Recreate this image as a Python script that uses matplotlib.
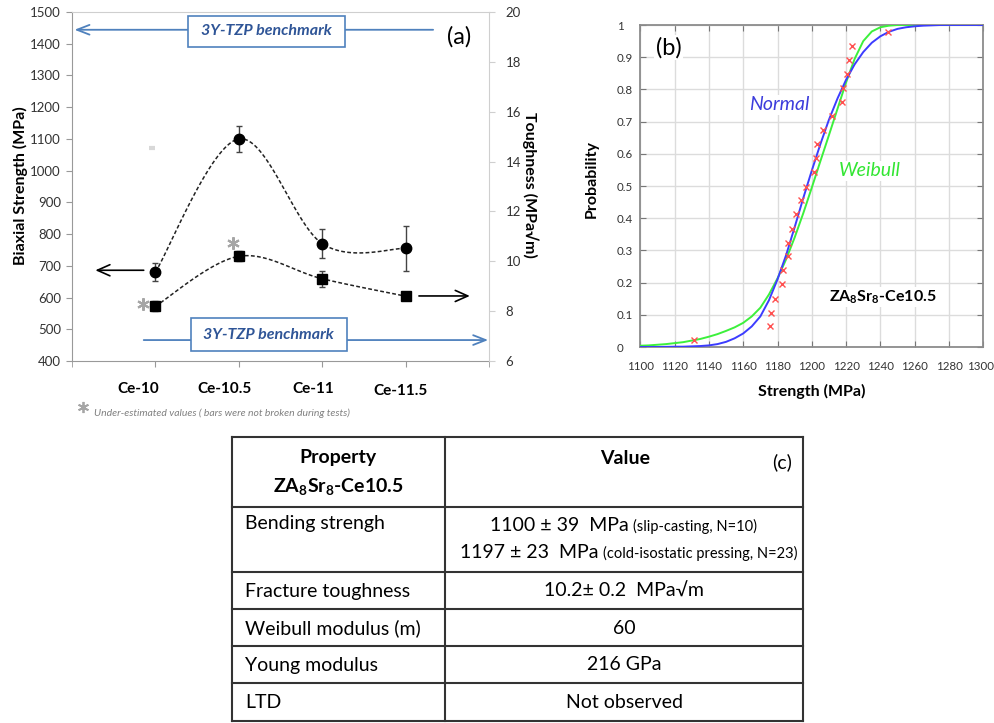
import numpy as np
import matplotlib
matplotlib.use('Agg')
import matplotlib.pyplot as plt
from matplotlib.patches import Rectangle
from matplotlib.transforms import ScaledTranslation

plt.rcParams['font.family'] = ['Lato', 'DejaVu Sans']
plt.rcParams['mathtext.fontset'] = 'custom'
plt.rcParams['mathtext.rm'] = 'Lato'
plt.rcParams['mathtext.bf'] = 'Lato:bold'

# ---------------- data: panel (a) ----------------
categories = ['Ce-10', 'Ce-10.5', 'Ce-11', 'Ce-11.5']
strength = [680, 1100, 770, 755]
strength_err = [29, 40, 46, 71]
toughness = [8.2, 10.2, 9.3, 8.6]
toughness_err = [0.2, 0.2, 0.33, 0.15]
strength_ticks = list(range(400, 1501, 100))
toughness_ticks = list(range(6, 21, 2))

# ---------------- data: panel (b) ----------------
sample_strength = [1131.1, 1175.9, 1176.3, 1178.3, 1182.5, 1183.3, 1186.2, 1186.0,
                   1188.3, 1190.9, 1193.8, 1196.5, 1201.0, 1202.5, 1203.1, 1206.6,
                   1211.7, 1217.7, 1218.1, 1220.6, 1221.6, 1223.5, 1244.3]
sample_prob = [0.023, 0.065, 0.107, 0.150, 0.195, 0.239, 0.283, 0.324, 0.368, 0.413,
               0.458, 0.497, 0.543, 0.588, 0.630, 0.675, 0.717, 0.760, 0.804, 0.848,
               0.892, 0.934, 0.978]
curve_x = list(range(1100, 1301, 5))
normal_p = [0.000, 0.000, 0.000, 0.0005, 0.001, 0.001, 0.002, 0.003, 0.005, 0.009,
            0.016, 0.027, 0.042, 0.064, 0.095, 0.145, 0.210, 0.285, 0.372, 0.462,
            0.548, 0.630, 0.706, 0.772, 0.830, 0.878, 0.916, 0.945, 0.965, 0.979,
            0.988, 0.993, 0.996, 0.998, 0.999, 1.0, 1.0, 1.0, 1.0, 1.0, 1.0]
weibull_p = [0.004, 0.005, 0.007, 0.009, 0.012, 0.015, 0.020, 0.025, 0.032, 0.040,
             0.050, 0.061, 0.075, 0.095, 0.122, 0.163, 0.213, 0.272, 0.340, 0.415,
             0.495, 0.577, 0.658, 0.740, 0.822, 0.895, 0.950, 0.980, 0.993, 0.998,
             1.0, 1.0, 1.0, 1.0, 1.0, 1.0, 1.0, 1.0, 1.0, 1.0, 1.0]
prob_ticks = [0, 0.1, 0.2, 0.3, 0.4, 0.5, 0.6, 0.7, 0.8, 0.9, 1]
prob_labels = ['0', '0.1', '0.2', '0.3', '0.4', '0.5', '0.6', '0.7', '0.8', '0.9', '1']

# ---------------- data: table (c) ----------------
table_props = ['Bending strengh', 'Fracture toughness', 'Weibull modulus (m)',
               'Young modulus', 'LTD']
table_values = [None, '10.2\u00b1 0.2  MPa\u221am', '60', '216 GPa', 'Not observed']
bending_main = ['1100 \u00b1 39  MPa', '1197 \u00b1 23  MPa']
bending_note = ['(slip-casting, N=10)', '(cold-isostatic pressing, N=23)']

W, H = 995, 723
fig = plt.figure(figsize=(W / 100, H / 100), dpi=100)


def catmull_rom(px, py, n=40):
    pts = np.column_stack([px, py]).astype(float)
    ext = np.vstack([pts[0], pts, pts[-1]])
    out = []
    t = np.linspace(0, 1, n)[:, None]
    for i in range(1, len(ext) - 2):
        p0, p1, p2, p3 = ext[i - 1], ext[i], ext[i + 1], ext[i + 2]
        seg = 0.5 * (2 * p1 + (-p0 + p2) * t + (2 * p0 - 5 * p1 + 4 * p2 - p3) * t ** 2
                     + (-p0 + 3 * p1 - 3 * p2 + p3) * t ** 3)
        out.append(seg if i == 1 else seg[1:])
    return np.vstack(out)


# ================= panel (a) =================
axA = fig.add_axes([72 / W, 1 - 361 / H, 417 / W, 349 / H])
axA.set_xlim(0, 5)
axA.set_ylim(400, 1500)
xpos = np.arange(1, len(categories) + 1)
axA.set_yticks(strength_ticks)
axA.set_xticks(xpos, categories)
axA.set_xticks([0, 5], minor=True)
axA.tick_params(axis='y', labelsize=9.5, labelcolor='#333', length=4, color='#999', pad=4)
axA.tick_params(axis='x', which='both', length=4, color='#999', pad=11)
for lbl, dx, dy in zip(axA.get_xticklabels(), [-17, -14, -9, -5], [0, 0, 0, -2]):
    lbl.set_fontweight('bold')
    lbl.set_fontsize(11)
    lbl.set_transform(lbl.get_transform() + ScaledTranslation(dx / 100, dy / 100, fig.dpi_scale_trans))
axA.spines['left'].set_color('#999')
axA.spines['bottom'].set_color('#999')
axA.spines['top'].set_color('#cfcfcf')
axA.spines['right'].set_visible(False)

ax2 = axA.twinx()
ax2.set_ylim(6, 20)
ax2.set_yticks(toughness_ticks)
ax2.tick_params(axis='y', labelsize=9.5, labelcolor='#333', length=4, color='#cfcfcf', pad=8)
for s in ['left', 'top', 'bottom']:
    ax2.spines[s].set_visible(False)
ax2.spines['right'].set_color('#cfcfcf')

# smooth connecting curves drawn in a pixel-like space
sx_scale, sy_scale, ty_scale = 83.4, 349 / 1100, 349 / 14
c = catmull_rom(xpos * sx_scale, np.array(strength) * sy_scale)
axA.plot(c[:, 0] / sx_scale, c[:, 1] / sy_scale, ls=(0, (2.5, 1.5)), color='#222', lw=1.1, zorder=3)
axA.errorbar(xpos, strength, yerr=strength_err, fmt='none', ecolor='#444', elinewidth=1,
             capsize=2.5, capthick=1, zorder=4)
axA.plot(xpos, strength, 'o', ms=7.5, color='black', zorder=5)

c2 = catmull_rom(xpos * sx_scale, np.array(toughness) * ty_scale)
ax2.plot(c2[:, 0] / sx_scale, c2[:, 1] / ty_scale, ls=(0, (2.5, 1.5)), color='#222', lw=1.1, zorder=3)
ax2.errorbar(xpos, toughness, yerr=toughness_err, fmt='none', ecolor='#444', elinewidth=1,
             capsize=2.5, capthick=1, zorder=4)
ax2.plot(xpos, toughness, 's', ms=6.5, color='black', zorder=5)

# black indicator arrows
axA.annotate('', xy=(0.28, 686), xytext=(0.86, 686),
             arrowprops=dict(arrowstyle='->,head_length=0.9,head_width=0.4', color='black',
                             lw=1.2, shrinkA=0, shrinkB=0))
axA.annotate('', xy=(4.77, 605), xytext=(4.16, 605),
             arrowprops=dict(arrowstyle='->,head_length=0.9,head_width=0.4', color='black',
                             lw=1.2, shrinkA=0, shrinkB=0))

# benchmark arrows and boxes
bcol = '#4f81bd'
axA.annotate('', xy=(0.03, 1444), xytext=(4.33, 1444),
             arrowprops=dict(arrowstyle='->,head_length=0.9,head_width=0.35', color=bcol,
                             lw=1.3, shrinkA=0, shrinkB=0), zorder=2)
axA.add_patch(Rectangle((1.39, 1390), 1.88, 98, facecolor='white', edgecolor=bcol, lw=1.2, zorder=6))
axA.text(2.33, 1439, '3Y-TZP benchmark', ha='center', va='center', fontsize=11.5,
         fontweight='bold', fontstyle='italic', color='#2f5597', zorder=7)
axA.annotate('', xy=(4.99, 466), xytext=(0.86, 466),
             arrowprops=dict(arrowstyle='->,head_length=0.9,head_width=0.35', color=bcol,
                             lw=1.3, shrinkA=0, shrinkB=0), zorder=2, annotation_clip=False)
axA.add_patch(Rectangle((1.43, 431), 1.87, 104, facecolor='white', edgecolor=bcol, lw=1.2, zorder=6))
axA.text(2.36, 483, '3Y-TZP benchmark', ha='center', va='center', fontsize=11.5,
         fontweight='bold', fontstyle='italic', color='#2f5597', zorder=7)

# gray asterisks
axA.plot([0.85, 1.93], [580, 773], ls='none', marker=(6, 2, 0), ms=9, mew=1.5, color='#a6a6a6', zorder=6)
axA.plot([0.96], [1072], ls='none', marker='_', ms=5, mew=3, color='#d8d8d8', zorder=2)

axA.text(0.928, 0.928, '(a)', transform=axA.transAxes, ha='center', va='center', fontsize=17)

# ================= panel (b) =================
axB = fig.add_axes([640.3 / W, 1 - 347 / H, 343 / W, 322 / H])
axB.set_xlim(1100, 1300)
axB.set_ylim(0, 1)
axB.set_xticks(range(1100, 1301, 20))
axB.set_yticks(prob_ticks, prob_labels)
axB.grid(True, color='#dcdcdc', lw=1)
axB.set_axisbelow(True)
for s in axB.spines.values():
    s.set_color('#8c8c8c')
    s.set_linewidth(1.3)
axB.tick_params(direction='in', length=4, color='#777', labelsize=8.3, labelcolor='#333',
                top=True, right=True)
axB.tick_params(axis='x', pad=10)
axB.tick_params(axis='y', pad=17)
for lbl in axB.get_yticklabels():
    lbl.set_ha('left')
last = axB.get_xticklabels()[-1]
last.set_transform(last.get_transform() + ScaledTranslation(-0.03, 0, fig.dpi_scale_trans))
axB.plot(curve_x, weibull_p, color='#3cf03c', lw=1.4, zorder=3)
axB.plot(curve_x, normal_p, color='#3c3cff', lw=1.4, zorder=4)
axB.plot(sample_strength, sample_prob, ls='none', marker='x', ms=4, mew=1, color='#ff5050', zorder=5)
wb = dict(facecolor='white', edgecolor='none', pad=1)
axB.text(0.082, 0.93, '(b)', transform=axB.transAxes, ha='center', va='center', fontsize=17, bbox=wb)
axB.text(1181, 0.752, 'Normal', ha='center', va='center', fontsize=14, fontstyle='italic',
         color='#3c3cdc', bbox=wb)
axB.text(1234, 0.547, 'Weibull', ha='center', va='center', fontsize=14, fontstyle='italic',
         color='#33e633', bbox=wb)
axB.text(1241.5, 0.155, r'ZA$_\mathbf{8}$Sr$_\mathbf{8}$-Ce10.5', ha='center', va='center',
         fontsize=11.5, fontweight='bold', bbox=wb)

# ================= overlay: labels, footnote, table =================
ov = fig.add_axes([0, 0, 1, 1])
ov.set_xlim(0, W)
ov.set_ylim(H, 0)
ov.axis('off')
ov.patch.set_alpha(0)

ov.text(20, 186, 'Biaxial Strength (MPa)', rotation=90, ha='center', va='center',
        fontsize=11.5, fontweight='bold')
ov.text(530, 185, 'Toughness (MPa\u221am)', rotation=-90, ha='center', va='center',
        fontsize=11.5, fontweight='bold')
ov.text(592, 179, 'Probability', rotation=90, ha='center', va='center',
        fontsize=11.5, fontweight='bold')
ov.text(812, 391, 'Strength (MPa)', ha='center', va='center', fontsize=11.5, fontweight='bold')

ov.plot([83], [407], ls='none', marker=(6, 2, 0), ms=8, mew=1.3, color='#a6a6a6')
ov.text(94, 413, 'Under-estimated values ( bars were not broken during tests)', ha='left',
        va='center', fontsize=7.5, fontstyle='italic', color='#808080')

# table grid
tl, tm, tr = 232, 445, 803
rows_y = [437, 507, 572, 609, 646, 683, 721]
for y in rows_y:
    ov.plot([tl, tr], [y, y], color='#333', lw=1.5, solid_capstyle='projecting')
for x in [tl, tm, tr]:
    ov.plot([x, x], [rows_y[0], rows_y[-1]], color='#333', lw=1.5, solid_capstyle='projecting')

ov.text(338, 458, 'Property', ha='center', va='center', fontsize=14, fontweight='bold')
ov.text(338, 487, r'ZA$_\mathbf{8}$Sr$_\mathbf{8}$-Ce10.5', ha='center', va='center',
        fontsize=14, fontweight='bold')
ov.text(625, 458, 'Value', ha='center', va='center', fontsize=14, fontweight='bold')
ov.text(782, 462, '(c)', ha='center', va='center', fontsize=14)

row_centers = [524, 591, 628, 665, 703]
for name, val, yc in zip(table_props, table_values, row_centers):
    ov.text(245, yc, name, ha='left', va='center', fontsize=14)
    if val is not None:
        ov.text(624, yc, val, ha='center', va='center', fontsize=14)

for main, note, x0, yb in zip(bending_main, bending_note, [490, 460], [531, 558]):
    t = ov.text(x0, yb, main, ha='left', va='baseline', fontsize=14)
    ov.annotate(note, xy=(1, 0), xycoords=t, xytext=(3, 0), textcoords='offset points',
                ha='left', va='bottom', fontsize=10.5)

fig.savefig('out.png', dpi=100)
